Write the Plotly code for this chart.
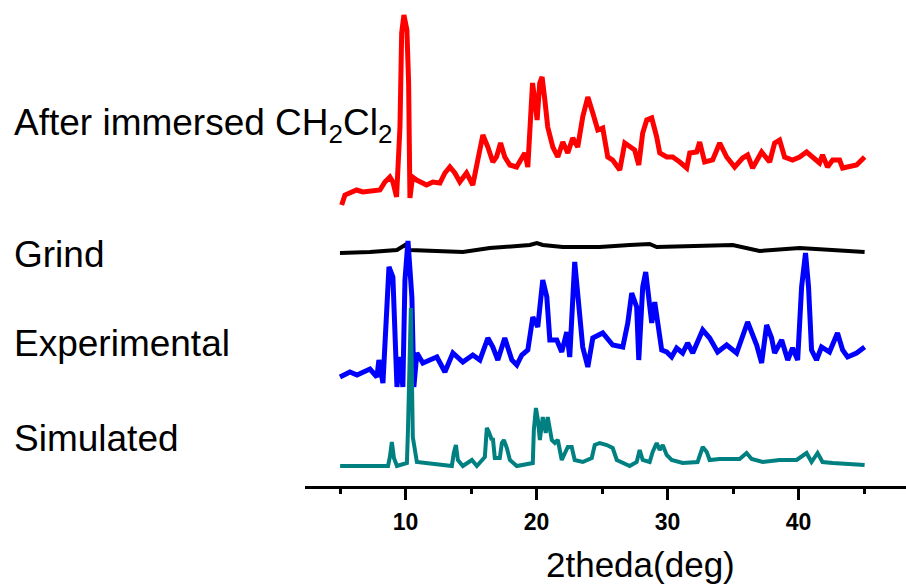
import plotly.graph_objects as go

# ---- data (2theta in degrees, intensity in arbitrary units above each pattern's baseline) ----
red_x = [5.12, 5.37, 6.26, 6.74, 8.04, 8.42, 8.80, 9.03, 9.31, 9.57, 9.70, 9.87, 10.10, 10.23, 10.33, 10.53, 10.84,
         11.60, 12.08, 12.62, 13.00, 13.38, 13.76, 14.14, 14.65, 15.13, 15.51, 15.90, 16.28, 16.66, 16.94, 17.25,
         17.57, 17.96, 18.47, 18.85, 19.10, 19.33, 19.48, 19.69, 19.86, 20.04, 20.24, 20.42, 20.63, 20.85, 21.24,
         21.62, 22.00, 22.38, 22.76, 23.14, 23.52, 23.91, 24.29, 24.67, 25.05, 25.43, 25.81, 26.35, 26.73, 27.11,
         27.49, 27.80, 28.10, 28.41, 28.79, 29.17, 29.40, 29.93, 30.39, 30.93, 31.46, 31.69, 32.22, 32.45, 32.83,
         33.44, 33.98, 34.51, 35.12, 35.73, 36.11, 36.49, 37.18, 37.79, 38.17, 38.55, 38.93, 39.54, 40.08, 40.61,
         41.07, 41.60, 41.83, 42.21, 42.60, 43.13, 43.36, 43.89, 44.43, 45.04]
red_y = [0, 10, 15, 13, 15, 23, 28, 23, 8, 78, 172, 190, 175, 122, 7, 28, 25,
         20, 23, 22, 32, 38, 32, 23, 32, 20, 45, 70, 58, 43, 48, 62,
         48, 40, 38, 48, 52, 38, 85, 122, 105, 85, 122, 128, 105, 78, 58,
         48, 63, 52, 67, 58, 88, 108, 92, 75, 77, 48, 45, 35, 62, 58,
         55, 40, 72, 85, 87, 68, 52, 48, 48, 43, 37, 52, 53, 63, 43,
         45, 62, 48, 38, 47, 50, 37, 53, 43, 62, 65, 48, 45, 48, 53,
         48, 42, 50, 38, 45, 45, 37, 38, 40, 48]

black_x = [4.99, 7.28, 9.34, 9.95, 10.33, 14.37, 16.43, 19.48, 20.02, 20.47, 22.00, 24.82, 27.11, 28.63, 29.17,
           34.97, 37.02, 40.08, 45.04]
black_y = [0, 1, 3, 8, 3, 1, 5, 8, 10, 8, 6, 6, 8, 9, 6, 8, 2, 5, 1]

blue_x = [4.99, 5.75, 6.29, 6.74, 7.28, 7.81, 7.96, 8.27, 8.57, 8.73, 9.03, 9.19, 9.34, 9.57, 9.79, 9.95, 10.18,
          10.48, 10.63, 10.86, 11.32, 11.85, 12.39, 13.00, 13.61, 14.37, 15.13, 15.67, 16.28, 16.66, 17.04, 17.57,
          18.11, 18.49, 18.87, 19.33, 19.71, 20.09, 20.47, 20.78, 21.01, 21.54, 21.92, 22.30, 22.53, 22.91, 23.14,
          23.52, 23.91, 24.29, 25.05, 25.81, 26.58, 26.96, 27.26, 27.64, 27.80, 28.10, 28.33, 28.63, 28.79, 29.02,
          29.25, 29.55, 29.93, 30.31, 30.69, 31.15, 31.53, 31.92, 32.68, 33.21, 33.82, 34.51, 35.27, 36.11, 36.80,
          37.18, 37.56, 37.94, 38.17, 38.71, 39.17, 39.54, 39.93, 40.23, 40.53, 40.76, 40.99, 41.37, 41.75, 42.36,
          42.97, 43.36, 43.74, 44.43, 45.04]
blue_y = [10, 15, 12, 15, 18, 10, 27, 4, 77, 120, 110, 34, 0, 30, 0, 107, 146,
          90, 0, 34, 24, 27, 30, 15, 34, 25, 32, 27, 49, 40, 27, 49,
          27, 22, 32, 37, 70, 60, 107, 90, 47, 47, 35, 55, 30, 125, 90,
          40, 20, 49, 54, 42, 40, 64, 94, 80, 27, 100, 115, 87, 64, 85,
          67, 37, 35, 30, 39, 34, 44, 34, 57, 49, 35, 42, 34, 65, 42,
          24, 62, 49, 34, 47, 27, 39, 27, 100, 134, 100, 37, 27, 40, 35,
          54, 37, 30, 34, 40]

teal_x = [5.00, 8.66, 8.80, 8.95, 9.11, 9.34, 10.10, 10.18, 10.40, 10.55, 10.86, 13.53, 13.68, 13.84, 13.99, 14.37,
          15.06, 15.44, 16.05, 16.20, 16.36, 16.58, 16.66, 16.81, 17.19, 17.35, 17.50, 17.73, 17.96, 18.49, 19.71,
          19.79, 19.95, 20.10, 20.25, 20.47, 20.70, 20.85, 21.16, 21.39, 21.62, 21.92, 22.38, 22.68, 22.91, 23.52,
          24.21, 24.44, 24.82, 25.36, 25.81, 26.12, 27.11, 27.64, 27.87, 28.10, 28.63, 28.86, 29.17, 29.40, 29.63,
          29.93, 30.31, 31.15, 32.29, 32.68, 32.99, 33.21, 33.98, 35.50, 36.03, 36.42, 37.26, 38.55, 39.85, 40.61,
          40.99, 41.45, 41.83, 42.60, 45.04]
teal_y = [0, 0, 9, 24, 8, 0, 3, 36, 158, 29, 4, 0, 13, 21, 6, 0,
          6, 0, 9, 38, 34, 26, 28, 8, 8, 23, 26, 18, 6, 0, 3,
          36, 58, 46, 26, 49, 33, 49, 26, 23, 26, 6, 19, 19, 6, 4,
          8, 21, 23, 21, 18, 6, 0, 4, 16, 6, 4, 14, 23, 16, 21,
          11, 6, 3, 4, 19, 14, 6, 7, 7, 13, 7, 4, 6, 6, 13,
          4, 13, 4, 3, 1]

# vertical offsets of each pattern (stacked display)
offsets = {"red": 281, "black": 233, "blue": 99, "teal": 20}

series_labels = ["After immersed CH<sub>2</sub>Cl<sub>2</sub>", "Grind", "Experimental", "Simulated"]
label_y = [361, 232, 143, 48]

x_title = "2theda(deg)"
tick_vals = [10, 20, 30, 40]

# ---- figure ----
fig = go.Figure()

def add(xs, ys, off, color, width):
    fig.add_trace(go.Scatter(x=xs, y=[v + off for v in ys], mode="lines",
                             line=dict(color=color, width=width), hoverinfo="skip",
                             showlegend=False))

add(red_x, red_y, offsets["red"], "#FF0000", 5)
add(black_x, black_y, offsets["black"], "#000000", 4)
add(blue_x, blue_y, offsets["blue"], "#0000FF", 5)
add(teal_x, teal_y, offsets["teal"], "#008080", 4)

for txt, yy in zip(series_labels, label_y):
    fig.add_annotation(text=txt, xref="paper", yref="y", x=-0.4875, y=yy,
                       xanchor="left", yanchor="middle", showarrow=False,
                       font=dict(family="Liberation Sans, Arial", size=37, color="#000000"))

fig.add_annotation(text=x_title, xref="x", yref="paper", x=27.95, y=-0.162,
                   xanchor="center", yanchor="middle", showarrow=False,
                   font=dict(family="Liberation Sans, Arial", size=35, color="#000000"))

fig.update_xaxes(range=[2.32, 48.2], showline=True, linecolor="#000000", linewidth=2.5,
                 ticks="outside", ticklen=11, tickwidth=2.5, tickcolor="#000000",
                 tickvals=tick_vals, ticktext=[str(v) for v in tick_vals],
                 tickfont=dict(family="Liberation Sans, Arial", size=23, color="#000000", weight="bold"),
                 ticklabelstandoff=3,
                 minor=dict(tickvals=[5, 15, 25, 35, 45], ticks="outside", ticklen=5, tickwidth=2.5,
                            tickcolor="#000000"),
                 showgrid=False, zeroline=False, mirror=False)
fig.update_yaxes(range=[0, 486], visible=False, showgrid=False, zeroline=False)

fig.update_layout(width=906, height=587, margin=dict(l=305, r=0, t=0, b=101),
                  plot_bgcolor="#FFFFFF", paper_bgcolor="#FFFFFF", showlegend=False)

fig.write_html("out.html")
